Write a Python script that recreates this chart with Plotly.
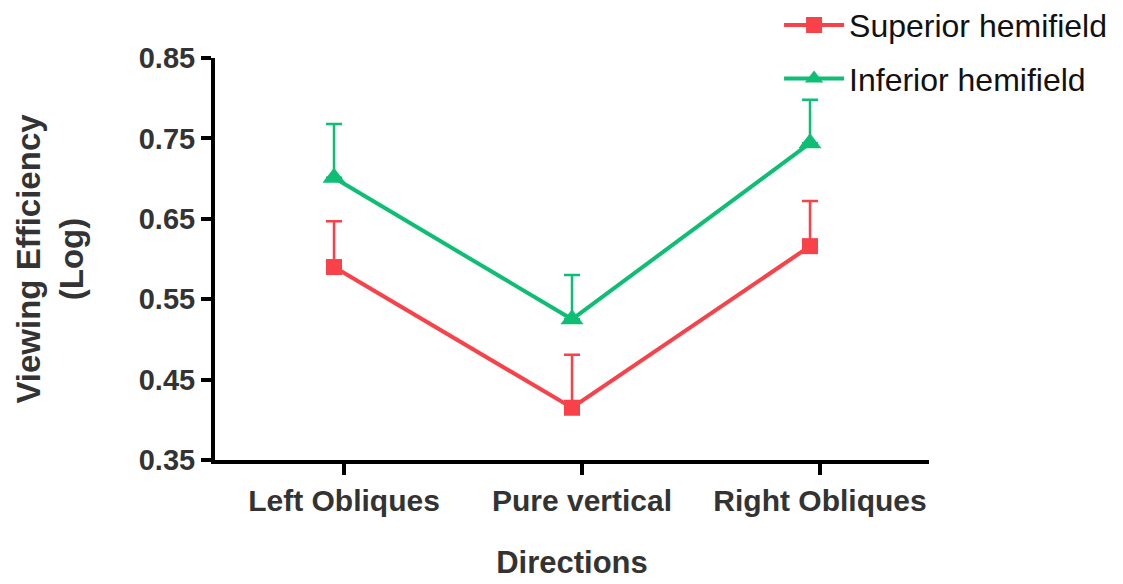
import plotly.graph_objects as go

categories = ["Left Obliques", "Pure vertical", "Right Obliques"]
superior = [0.590, 0.415, 0.616]
superior_err = [0.057, 0.066, 0.056]
inferior = [0.701, 0.525, 0.744]
inferior_err = [0.067, 0.055, 0.054]
y_ticks = [0.35, 0.45, 0.55, 0.65, 0.75, 0.85]

RED = "#F9414A"
GREEN = "#0DBE74"
FONT = "Liberation Sans"
x_idx = list(range(len(categories)))

fig = go.Figure()
fig.add_trace(go.Scatter(
    x=x_idx, y=superior, name="Superior hemifield", mode="lines+markers",
    line=dict(color=RED, width=4),
    marker=dict(symbol="square", size=16, color=RED),
    error_y=dict(type="data", array=superior_err, arrayminus=[0] * 3, symmetric=False,
                 color=RED, thickness=2.5, width=8),
    legendgroup="a",
))
fig.add_trace(go.Scatter(
    x=x_idx, y=inferior, name="Inferior hemifield", mode="lines+markers",
    line=dict(color=GREEN, width=4),
    marker=dict(symbol="triangle-up", size=20, color=GREEN),
    error_y=dict(type="data", array=inferior_err, arrayminus=[0] * 3, symmetric=False,
                 color=GREEN, thickness=2.5, width=8),
    legendgroup="b",
))

fig.update_layout(
    width=1123, height=584,
    margin=dict(l=207, r=202, t=50, b=132, autoexpand=False),
    plot_bgcolor="white", paper_bgcolor="white",
    font=dict(family=FONT, color="#333333"),
    legend=dict(x=0.79, y=1.15, xanchor="left", yanchor="top",
                font=dict(family=FONT, size=32, color="#111111"),
                traceorder="grouped", tracegroupgap=9, itemwidth=60,
                bgcolor="rgba(0,0,0,0)"),
    showlegend=True,
)
fig.update_xaxes(
    range=[-0.5, 2.5],
    tickvals=[i + 0.042 for i in x_idx], ticktext=categories,
    showline=True, linecolor="black", linewidth=4,
    ticks="outside", ticklen=11, tickwidth=4, tickcolor="black",
    showgrid=False, zeroline=False,
    tickfont=dict(family=FONT, size=30, weight="bold", color="#333333"),
    title=dict(text="Directions", standoff=36,
               font=dict(family=FONT, size=31, weight="bold", color="#333333")),
)
fig.update_yaxes(
    range=[0.35, 0.85], tickvals=y_ticks, tickformat=".2f",
    showline=True, linecolor="black", linewidth=4,
    ticks="outside", ticklen=10, tickwidth=4, tickcolor="black",
    showgrid=False, zeroline=False,
    tickfont=dict(family=FONT, size=29, weight="bold", color="#333333"),
    title=dict(text="Viewing Efficiency<br>(Log)", standoff=46,
               font=dict(family=FONT, size=33, weight="bold", color="#333333")),
)

fig.write_html("out.html")
